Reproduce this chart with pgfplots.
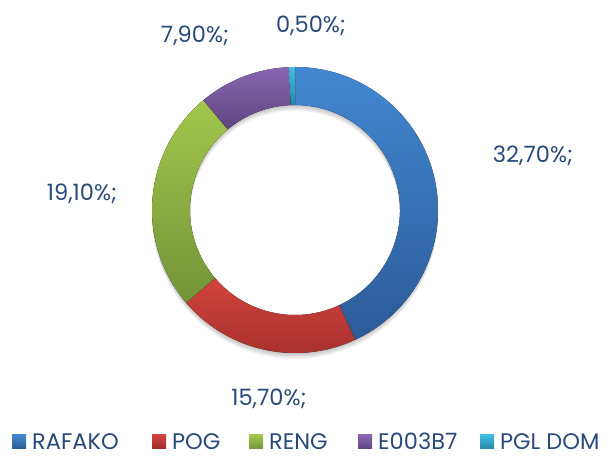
\documentclass[border=0pt]{standalone}
\usepackage{pgfplots}
\pgfplotsset{compat=1.18}
\usepackage{pgfplotstable}
\usepackage{fontspec}
\setmainfont{Poppins}

\definecolor{lbl}{RGB}{40,74,122}
\definecolor{c0t}{HTML}{4287D2}\definecolor{c0b}{HTML}{2C5B97}
\definecolor{c1t}{HTML}{D3433F}\definecolor{c1b}{HTML}{A02E2B}
\definecolor{c2t}{HTML}{A2C74C}\definecolor{c2b}{HTML}{739338}
\definecolor{c3t}{HTML}{8965B3}\definecolor{c3b}{HTML}{5E457F}
\definecolor{c4t}{HTML}{3FBCE0}\definecolor{c4b}{HTML}{2986A4}

% share of each company (labels keep the original values)
\pgfplotstableread{
id value
0 32.7
1 15.7
2 19.1
3 7.9
4 0.5
}\sharetable

\newcommand{\cx}{295}
\newcommand{\cy}{246}
\newcommand{\rout}{143}
\newcommand{\rin}{105}
\newcommand{\bigfont}{\fontsize{22.5bp}{26bp}\selectfont}

% legend entry: square at x, text from x+20
\newcommand{\legitem}[3]{%
  \fill[top color=#2t, bottom color=#2b] (axis cs:#1,7) rectangle (axis cs:{#1+14},21);
  \node[text=lbl, anchor=base west, inner sep=0pt] at (axis cs:{#1+20},7) {#3};}

\begin{document}
\begin{tikzpicture}
\bigfont
\begin{axis}[
  scale only axis, width=612bp, height=456bp,
  xmin=0, xmax=612, ymin=0, ymax=456,
  hide axis, clip=false,
]
\path (axis cs:0,0) rectangle (axis cs:612,456);

% soft shadow under the ring
\pgfplotsforeachungrouped \k in {1,...,6}{
  \edef\temp{\noexpand\fill[black, opacity=0.04, even odd rule]
    (axis cs:\cx,{\cy-\k}) circle[radius=\rout bp]
    (axis cs:\cx,{\cy-\k}) circle[radius=\rin bp];}
  \temp
}

\pgfplotstablegetrowsof{\sharetable}
\pgfmathtruncatemacro{\nlast}{\pgfplotsretval-1}
\def\total{0}
\pgfplotsforeachungrouped \i in {0,...,\nlast}{
  \pgfplotstablegetelem{\i}{value}\of\sharetable
  \pgfmathsetmacro{\total}{\total+\pgfplotsretval}
}
\def\angstart{90}
\pgfplotsforeachungrouped \i in {0,...,\nlast}{
  \pgfplotstablegetelem{\i}{value}\of\sharetable
  \pgfmathsetmacro{\angend}{\angstart-360*\pgfplotsretval/\total}
  \edef\temp{\noexpand\fill[top color=c\i t, bottom color=c\i b]
    (axis cs:{\cx+\rout*cos(\angstart)},{\cy+\rout*sin(\angstart)})
    arc[start angle=\angstart, end angle=\angend, radius=\rout bp]
    -- (axis cs:{\cx+\rin*cos(\angend)},{\cy+\rin*sin(\angend)})
    arc[start angle=\angend, end angle=\angstart, radius=\rin bp] -- cycle;}
  \temp
  \global\let\angstart\angend
}

\node[text=lbl, anchor=base] at (axis cs:533,293) {32,70\%;};
\node[text=lbl, anchor=base] at (axis cs:269,50) {15,70\%;};
\node[text=lbl, anchor=base] at (axis cs:82,255) {19,10\%;};
\node[text=lbl, anchor=base] at (axis cs:195,413) {7,90\%;};
\node[text=lbl, anchor=base] at (axis cs:311,423) {0,50\%;};

\legitem{12}{c0}{RAFAKO}
\legitem{152}{c1}{POG}
\legitem{249}{c2}{RENG}
\legitem{358}{c3}{E003B7}
\legitem{480}{c4}{PGL DOM}
\end{axis}
\end{tikzpicture}
\end{document}
